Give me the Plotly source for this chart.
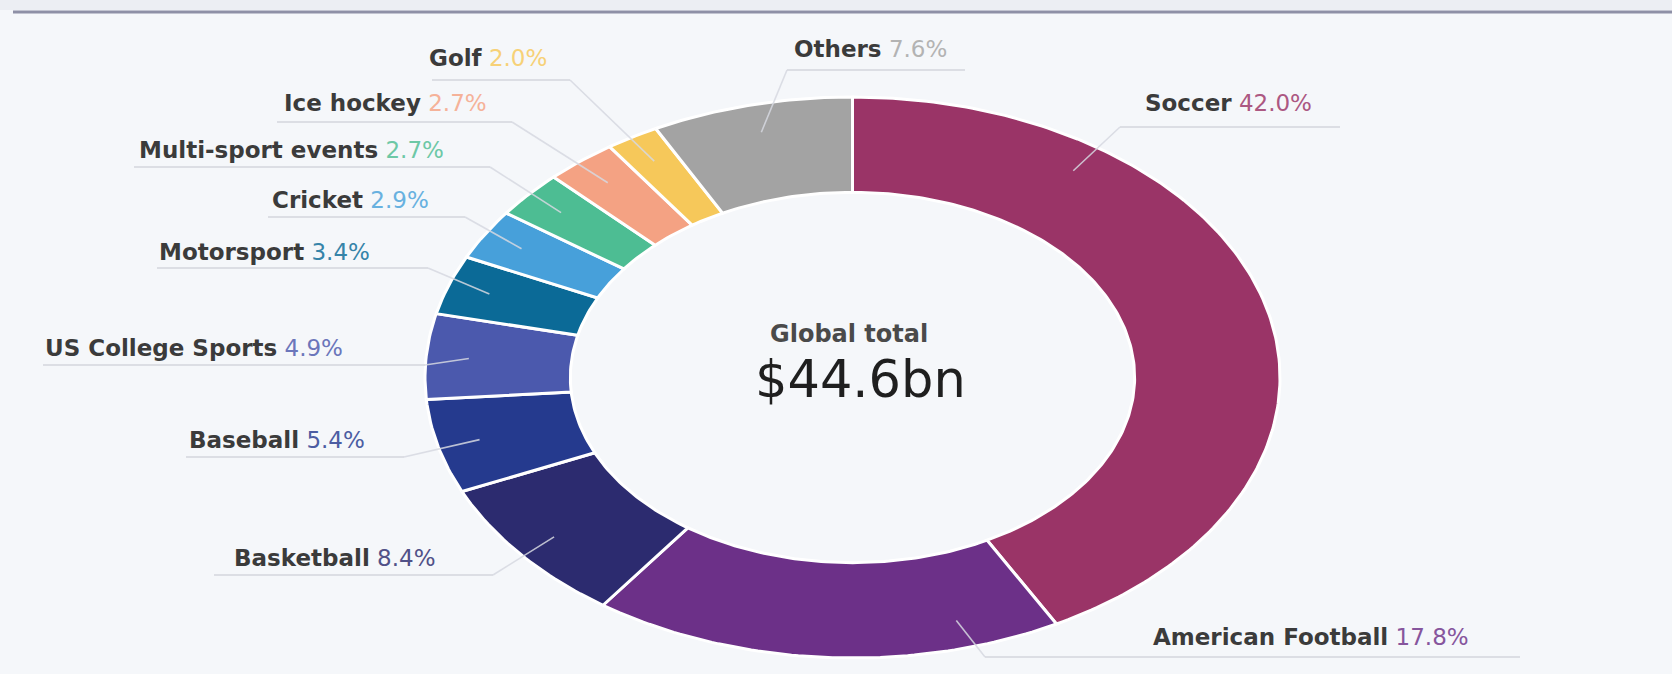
import math
import numpy as np
import plotly.graph_objects as go

# ---- data -------------------------------------------------------------
sports = ["Soccer", "American Football", "Basketball", "Baseball",
          "US College Sports", "Motorsport", "Cricket", "Multi-sport events",
          "Ice hockey", "Golf", "Others"]
shares = [42.0, 17.8, 8.4, 5.4, 4.9, 3.4, 2.9, 2.7, 2.7, 2.0, 7.6]
colors = ["#9a3467", "#6c3088", "#2c2b6f", "#253a8e", "#4b59ad", "#0b6a97",
          "#47a0da", "#4dbd93", "#f4a283", "#f6c85a", "#a3a3a3"]
center_title = "Global total"
center_value = "$44.6bn"

# ---- canvas / ring geometry (pixels) -----------------------------------
W, H = 1672, 674
CX, CY = 852.5, 377.5      # ring centre
RX, RY = 427.5, 280.5      # outer radii along x and y
HOLE = 0.66                # inner radius as a fraction of the outer one
ANCHOR_R = 0.9             # where connectors end inside a slice

def to_data(x, y):
    """pixel position -> unit-ring data coordinates"""
    return (x - CX) / RX, (CY - y) / RY

# label placement: (left x of text, text centre y, underline y, underline x0, x1, side)
label_layout = {
    "Soccer":             (1143, 103, 127, 1120, 1340, "right"),
    "American Football":  (1151, 637, 657, 985, 1520, "right"),
    "Basketball":         (232, 558, 575, 214, 493, "left"),
    "Baseball":           (187, 440, 457, 186, 404, "left"),
    "US College Sports":  (43, 348, 365, 43, 425, "left"),
    "Motorsport":         (157, 252, 268, 157, 428, "left"),
    "Cricket":            (270, 200, 217, 268, 465, "left"),
    "Multi-sport events": (137, 150, 167, 134, 490, "left"),
    "Ice hockey":         (282, 103, 122, 277, 512, "left"),
    "Golf":               (427, 58, 80, 432, 570, "left"),
    "Others":             (792, 49, 70, 787, 965, "right"),
}

def lighten(hex_color, amt):
    h = hex_color.lstrip("#")
    r, g, b = (int(h[i:i + 2], 16) for i in (0, 2, 4))
    r, g, b = (int(c + (255 - c) * amt) for c in (r, g, b))
    return f"rgb({r},{g},{b})"

fig = go.Figure()

# ---- ring slices ---------------------------------------------------------
total = sum(shares)
bounds = []
acc = 0.0
for s in shares:
    t0 = acc / total * 2 * math.pi
    acc += s
    t1 = acc / total * 2 * math.pi
    bounds.append((t0, t1))

for name, val, col, (t0, t1) in zip(sports, shares, colors, bounds):
    n = max(8, int((t1 - t0) / (2 * math.pi) * 400))
    t = np.linspace(t0, t1, n)
    xs = np.concatenate([np.sin(t), HOLE * np.sin(t[::-1]), [np.sin(t0)]])
    ys = np.concatenate([np.cos(t), HOLE * np.cos(t[::-1]), [np.cos(t0)]])
    fig.add_trace(go.Scatter(
        x=xs, y=ys, mode="lines", fill="toself", fillcolor=col,
        line=dict(color="#ffffff", width=3), hoverinfo="text",
        text=f"{name}: {val:.1f}%", showlegend=False))

# ---- connectors, underlines and labels ---------------------------------
annotations = []
for name, val, col, (t0, t1) in zip(sports, shares, colors, bounds):
    tx, ty, uy, ux0, ux1, side = label_layout[name]
    ex = ux1 if side == "left" else ux0
    exd, eyd = to_data(ex, uy)
    span = t1 - t0
    if span > math.radians(60):
        direction = math.atan2(exd, eyd) % (2 * math.pi)
        ta = min(max(direction, t0 + 0.2 * span), t1 - 0.2 * span)
    else:
        ta = (t0 + t1) / 2
    ax, ay = ANCHOR_R * math.sin(ta), ANCHOR_R * math.cos(ta)

    u0 = to_data(ux0, uy)
    u1 = to_data(ux1, uy)
    # underline
    fig.add_trace(go.Scatter(
        x=[u0[0], u1[0]], y=[u0[1], u1[1]], mode="lines",
        line=dict(color="#dcdee4", width=2), hoverinfo="skip", showlegend=False))
    # connector into the slice
    fig.add_trace(go.Scatter(
        x=[exd, ax], y=[eyd, ay], mode="lines",
        line=dict(color="rgba(214,216,224,0.85)", width=1.6),
        hoverinfo="skip", showlegend=False))

    lx, ly = to_data(tx, ty)
    annotations.append(dict(
        x=lx, y=ly, xref="x", yref="y", xanchor="left", yanchor="middle",
        showarrow=False,
        text=(f"<b>{name}</b> "
              f"<span style='color:{lighten(col, 0.18)}'>{val:.1f}%</span>"),
        font=dict(family="DejaVu Sans", size=23, color="#3b3b3b")))

# centre text
gx, gy = to_data(849, 334)
vx, vy = to_data(860, 379)
annotations.append(dict(x=gx, y=gy, xref="x", yref="y", showarrow=False,
                        text=f"<b>{center_title}</b>",
                        font=dict(family="DejaVu Sans", size=24, color="#4a4a4a")))
annotations.append(dict(x=vx, y=vy, xref="x", yref="y", showarrow=False,
                        text=center_value,
                        font=dict(family="DejaVu Sans", size=51, color="#1f1f1f")))

x0d, _ = to_data(0, 0)
x1d, _ = to_data(W, 0)
_, y0d = to_data(0, H)
_, y1d = to_data(0, 0)

fig.update_layout(
    width=W, height=H,
    margin=dict(l=0, r=0, t=0, b=0),
    paper_bgcolor="#f5f7fa", plot_bgcolor="#f5f7fa",
    xaxis=dict(range=[x0d, x1d], visible=False, fixedrange=True),
    yaxis=dict(range=[y0d, y1d], visible=False, fixedrange=True),
    annotations=annotations,
    shapes=[
        dict(type="rect", xref="paper", yref="paper", x0=0, x1=1,
             y0=1 - 10 / H, y1=1, fillcolor="#eceef3", line=dict(width=0),
             layer="below"),
        dict(type="line", xref="paper", yref="paper", x0=13 / W, x1=1,
             y0=1 - 12 / H, y1=1 - 12 / H,
             line=dict(color="#8e90a6", width=3)),
    ],
)

fig.write_html("out.html", config={"displayModeBar": False})
